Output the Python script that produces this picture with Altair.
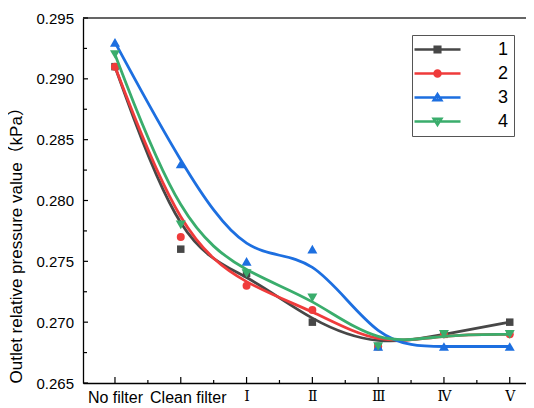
import json
import altair as alt
import pandas as pd

# ---------------- data ----------------
categories = ["No filter", "Clean filter", "Ⅰ", "Ⅱ", "Ⅲ", "Ⅳ", "Ⅴ"]
x_pos = [0, 1, 2, 3, 4, 5, 6]
series_names = ["1", "2", "3", "4"]
s1 = [0.291, 0.276, 0.274, 0.270, 0.268, 0.269, 0.270]
s2 = [0.291, 0.277, 0.273, 0.271, 0.268, 0.269, 0.269]
s3 = [0.293, 0.283, 0.275, 0.276, 0.268, 0.268, 0.268]
s4 = [0.292, 0.278, 0.274, 0.272, 0.268, 0.269, 0.269]
y_major = [0.265, 0.270, 0.275, 0.280, 0.285, 0.290, 0.295]
y_minor = [0.2675, 0.2725, 0.2775, 0.2825, 0.2875, 0.2925]
x_major = [0, 1, 2, 3, 4, 5, 6]
x_minor = [0.5, 1.5, 2.5, 3.5, 4.5, 5.5]

colors = ["#474747", "#ef3b3b", "#1d6fe0", "#3aad6c"]
marker_shapes = ["square", "circle", "triangle-up", "triangle-down"]
marker_sizes = [56, 64, 100, 100]

# legend symbols: line segment + filled marker drawn with nested strokes
LINE = "M-2.875,0L2.875,0"
legend_paths = [
    LINE + "M-0.35,-0.35L0.35,-0.35L0.35,0.35L-0.35,0.35ZM-0.1,-0.1L0.1,-0.1L0.1,0.1L-0.1,0.1Z",
    LINE + "M0.38,0A0.38,0.38 0 1,1 -0.38,0A0.38,0.38 0 1,1 0.38,0ZM0.12,0A0.12,0.12 0 1,1 -0.12,0A0.12,0.12 0 1,1 0.12,0Z",
    LINE + "M0,-0.42L0.48,0.34L-0.48,0.34ZM-0.08,0.075L0.08,0.075",
    LINE + "M0,0.42L0.48,-0.34L-0.48,-0.34ZM-0.08,-0.075L0.08,-0.075",
]

rows = []
for name, vals in zip(series_names, [s1, s2, s3, s4]):
    for xp, v in zip(x_pos, vals):
        rows.append({"series": name, "xpos": xp, "value": v})
df = pd.DataFrame(rows)

W, H = 443, 365
xscale = alt.Scale(domain=[-0.486, 6.247], nice=False, zero=False)
yscale = alt.Scale(domain=[0.265, 0.295], nice=False, zero=False)

label_expr = json.dumps(categories, ensure_ascii=False) + "[datum.value]"

x_axis = alt.Axis(
    values=x_major, labelExpr=label_expr, ticks=False, tickSize=0, grid=False,
    title=None, labelPadding=6,
    labelFontSize={"condition": {"test": "datum.value >= 2", "value": 14}, "value": 16},
    labelFont={"condition": {"test": "datum.value >= 2", "value": "DejaVu Serif"},
               "value": "Liberation Sans"},
    labelOffset={"condition": {"test": "datum.value == 1", "value": 7}, "value": 0},
    labelColor="black", domainColor="black", domainWidth=1.3,
    labelFlush=False, labelOverlap=False, labelBound=False,
)
y_title = "Outlet relative pressure value（kPa）"
y_axis = alt.Axis(
    values=y_major, format=".3f", ticks=False, tickSize=0, grid=False,
    domainColor="black", domainWidth=1.3, labelFontSize=15,
    labelFont="Liberation Sans", labelColor="black", labelPadding=9.5,
    labelFlush=False, labelOverlap=False,
    title=y_title, titleFontSize=17,
    titleFont="Liberation Sans, Noto Sans CJK SC", titleFontWeight="normal",
    titleColor="black", titleAnchor="start", titlePadding=10,
)


def X(field):
    return alt.X(field, scale=xscale, axis=x_axis, title=None)


def Y(field):
    return alt.Y(field, scale=yscale, axis=y_axis, title=y_title)


layers = []

# frame top line
layers.append(
    alt.Chart(df).mark_rule(color="#666666", strokeWidth=1.3).encode(
        x=alt.value(0), x2=alt.value(W), y=alt.value(0)
    )
)

# inward ticks
tick_y_major = pd.DataFrame({"v": y_major})
tick_y_minor = pd.DataFrame({"v": y_minor})
tick_x_major = pd.DataFrame({"v": x_major})
tick_x_minor = pd.DataFrame({"v": x_minor})
layers.append(alt.Chart(tick_y_major).mark_rule(color="black", strokeWidth=1.2).encode(
    y=Y("v:Q"), x=alt.value(0), x2=alt.value(5)))
layers.append(alt.Chart(tick_y_minor).mark_rule(color="black", strokeWidth=1.2).encode(
    y=Y("v:Q"), x=alt.value(0), x2=alt.value(4)))
layers.append(alt.Chart(tick_x_major).mark_rule(color="black", strokeWidth=1.2).encode(
    x=X("v:Q"), y=alt.value(H), y2=alt.value(H - 6)))
layers.append(alt.Chart(tick_x_minor).mark_rule(color="black", strokeWidth=1.2).encode(
    x=X("v:Q"), y=alt.value(H), y2=alt.value(H - 3)))

# series: smoothed line + markers
for i, name in enumerate(series_names):
    base = alt.Chart(df).transform_filter(alt.datum.series == name)
    layers.append(
        base.mark_line(interpolate="basis", color=colors[i], strokeWidth=2.8).encode(
            x=X("xpos:Q"), y=Y("value:Q"),
        )
    )
    layers.append(
        base.mark_point(filled=True, shape=marker_shapes[i], size=marker_sizes[i],
                        color=colors[i], opacity=1).encode(
            x=X("xpos:Q"), y=Y("value:Q"),
        )
    )

leg = alt.Legend(
    title=None, orient="none", legendX=329, legendY=17, direction="vertical",
    symbolSize=256, symbolStrokeWidth=2.5, symbolOpacity=1, symbolOffset=11,
    labelOffset=51, labelFontSize=18, labelFont="Liberation Sans",
    labelColor="black", padding=5, strokeColor="#555555", fillColor="white",
    rowPadding=5,
)

# legend carrier (invisible marks)
layers.append(
    alt.Chart(df).mark_point(filled=False, opacity=0, strokeWidth=2.5).encode(
        x=X("xpos:Q"), y=Y("value:Q"),
        color=alt.Color("series:N", scale=alt.Scale(domain=series_names, range=colors), legend=leg),
        shape=alt.Shape("series:N", scale=alt.Scale(domain=series_names, range=legend_paths), legend=leg),
    )
)

chart = alt.layer(*layers).properties(
    width=W, height=H,
    autosize=alt.AutoSizeParams(type="none"),
    padding={"left": 75, "top": 10, "right": 0, "bottom": 25},
    background="white",
).configure_view(strokeWidth=0)

chart.save("out.html", embed_options={"renderer": "svg", "actions": False})
